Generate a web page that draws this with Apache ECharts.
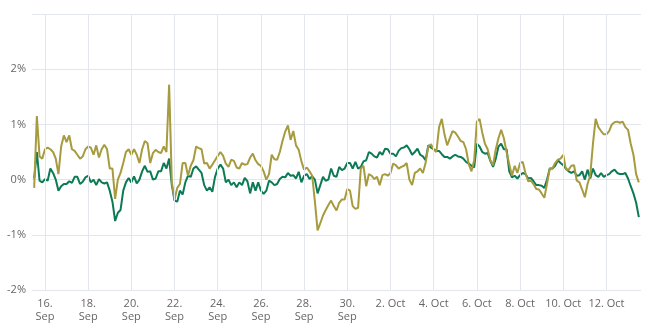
<!DOCTYPE html>
<html><head><meta charset="utf-8">
<script src="https://cdn.jsdelivr.net/npm/echarts@6/dist/echarts.min.js"></script>
<style>html,body{margin:0;padding:0;background:#fff}#c{width:651px;height:329px}</style>
</head><body><div id="c"></div>
<script>
// x = days after 14 Sep 00:00; samples every 3 hours from 15 Sep 12:00
const startDay = 1.5;
const stepDays = 0.125;
const olive = [-0.15,1.15,0.42,0.38,0.55,0.58,0.55,0.5,0.38,0.1,
0.6,0.8,0.68,0.8,0.55,0.52,0.45,0.38,0.42,0.55,
0.6,0.58,0.45,0.62,0.4,0.55,0.63,0.55,0.2,0.2,
-0.35,0.0,0.12,0.3,0.5,0.55,0.45,0.55,0.45,0.3,
0.55,0.7,0.66,0.3,0.48,0.54,0.5,0.48,0.6,0.5,
1.72,-0.05,-0.36,-0.15,-0.08,0.3,0.3,0.07,0.25,0.35,
0.6,0.57,0.55,0.29,0.3,0.2,0.27,0.35,0.43,0.5,
0.43,0.29,0.23,0.36,0.34,0.22,0.2,0.3,0.27,0.28,
0.4,0.47,0.35,0.28,0.25,0.15,0.0,0.1,0.45,0.37,
0.36,0.5,0.7,0.87,0.98,0.72,0.88,0.62,0.54,0.33,
0.18,0.22,0.15,0.07,-0.4,-0.92,-0.79,-0.65,-0.55,-0.46,
-0.38,-0.48,-0.56,-0.42,-0.36,-0.36,-0.17,-0.2,-0.48,-0.53,
-0.51,0.2,0.25,-0.12,0.1,0.07,0.01,0.05,-0.1,0.08,
0.1,0.07,0.12,0.29,0.26,0.2,0.23,0.25,0.3,0.0,
-0.1,0.12,0.15,0.2,0.12,0.3,0.6,0.64,0.54,0.5,
0.95,1.1,0.82,0.62,0.75,0.88,0.85,0.78,0.7,0.68,
0.55,0.28,0.15,0.35,1.05,1.1,0.85,0.65,0.55,0.35,
0.26,0.55,0.75,0.9,0.75,0.5,0.28,0.07,0.25,0.12,
0.3,0.32,0.12,-0.03,-0.02,-0.08,-0.17,-0.18,-0.25,-0.33,
-0.07,0.2,0.2,0.3,0.36,0.38,0.45,0.18,0.18,0.25,
0.26,-0.02,-0.05,-0.18,-0.32,-0.08,0.08,0.65,1.1,0.95,
0.88,0.82,0.82,0.88,1.0,1.04,1.05,1.03,1.05,0.95,
0.9,0.65,0.45,0.1,-0.05];
const green = [0.02,0.5,-0.02,-0.05,0.01,-0.02,0.2,0.12,0.0,-0.2,
-0.12,-0.08,-0.08,-0.03,-0.06,0.05,0.05,-0.08,-0.04,0.04,
0.07,-0.05,0.0,-0.1,0.01,-0.05,-0.07,-0.05,-0.2,-0.4,
-0.75,-0.6,-0.55,-0.2,-0.05,0.03,-0.05,0.06,-0.07,0.0,
0.15,0.25,0.14,0.15,0.0,0.02,0.15,0.15,0.3,0.2,
0.38,-0.1,-0.38,-0.4,-0.2,-0.27,-0.05,0.07,0.05,0.2,
0.24,0.18,0.12,-0.1,-0.2,-0.14,-0.22,0.05,0.2,0.27,
0.2,-0.05,0.0,-0.1,-0.05,-0.14,-0.05,-0.1,0.03,-0.03,
-0.25,-0.05,-0.2,-0.05,-0.2,-0.26,-0.2,-0.02,-0.05,-0.1,
-0.08,0.01,0.05,0.04,0.12,0.07,0.08,0.02,0.14,-0.05,
0.07,0.1,0.01,0.06,0.0,-0.25,-0.1,0.05,-0.02,0.0,
0.2,0.07,0.05,0.23,0.17,0.2,0.3,0.3,0.2,0.32,
0.2,0.23,0.33,0.35,0.5,0.47,0.42,0.4,0.5,0.45,
0.56,0.55,0.47,0.47,0.42,0.52,0.57,0.58,0.62,0.55,
0.45,0.5,0.56,0.45,0.42,0.35,0.62,0.58,0.55,0.52,
0.52,0.46,0.41,0.41,0.38,0.42,0.45,0.42,0.41,0.38,
0.32,0.29,0.25,0.22,0.65,0.6,0.5,0.47,0.48,0.34,
0.23,0.38,0.6,0.65,0.55,0.55,0.15,0.04,0.07,0.02,
0.08,0.12,0.1,0.02,0.03,-0.03,-0.1,-0.1,-0.11,-0.15,
0.0,0.2,0.2,0.25,0.35,0.3,0.26,0.2,0.15,0.12,
0.15,0.07,0.08,0.15,0.0,0.18,0.02,0.2,0.08,0.05,
0.12,0.05,0.08,0.1,0.15,0.18,0.12,0.1,0.1,0.12,
0.02,-0.12,-0.25,-0.42,-0.68];
// x tick positions (days after 14 Sep): 16 Sep ... 12 Oct
const xTicks = [2,4,6,8,10,12,14,16,18,20,22,24,26,28];
const sepDays = 30;
const monthStartDay = 14;
const oliveColor = '#A69B3E';
const greenColor = '#0C7A55';
const gridColor = '#e3e6ec';

function pairs(arr){ return arr.map((v,i)=>[startDay + i*stepDays, v]); }

const chart = echarts.init(document.getElementById('c'), null, {renderer:'canvas'});
const font = '"Open Sans", "Lucida Grande", sans-serif';
chart.setOption({
  animation:false,
  backgroundColor:'#fff',
  grid:{left:32,right:10,top:14,bottom:39,containLabel:false},
  xAxis:{
    type:'value', min:1.4, max:29.6, interval:0.2,
    axisLine:{show:false}, axisTick:{show:false},
    splitLine:{show:false},
    axisLabel:{
      showMinLabel:false, showMaxLabel:false,
      color:'#666', fontSize:11, fontFamily:font, margin:7, lineHeight:13,
      formatter:function(v){
        const r = Math.round(v);
        if (Math.abs(v-r)>1e-6 || xTicks.indexOf(r)<0) return '';
        const d = monthStartDay + r;
        return d <= sepDays ? d + '.\nSep' : (d - sepDays) + '. Oct';
      }
    }
  },
  yAxis:{
    type:'value', min:-2, max:3, interval:1,
    axisLine:{show:false}, axisTick:{show:false},
    splitLine:{show:true, lineStyle:{color:gridColor,width:1}},
    axisLabel:{color:'#666', fontSize:11, fontFamily:font, margin:6,
      formatter:function(v){ return v===3 ? '' : v + '%'; }}
  },
  series:[
    {type:'line', data:[], z:1, silent:true,
     markLine:{silent:true, symbol:['none','none'], label:{show:false}, animation:false,
       lineStyle:{color:gridColor, width:1, type:'solid'},
       data: xTicks.map(t=>({xAxis:t}))}},
    {type:'line', data:pairs(green), z:2, showSymbol:false, symbol:'none', lineStyle:{color:greenColor,width:2}, itemStyle:{color:greenColor}},
    {type:'line', data:pairs(olive), z:3, showSymbol:false, symbol:'none', lineStyle:{color:oliveColor,width:2}, itemStyle:{color:oliveColor}}
  ]
});
</script></body></html>
